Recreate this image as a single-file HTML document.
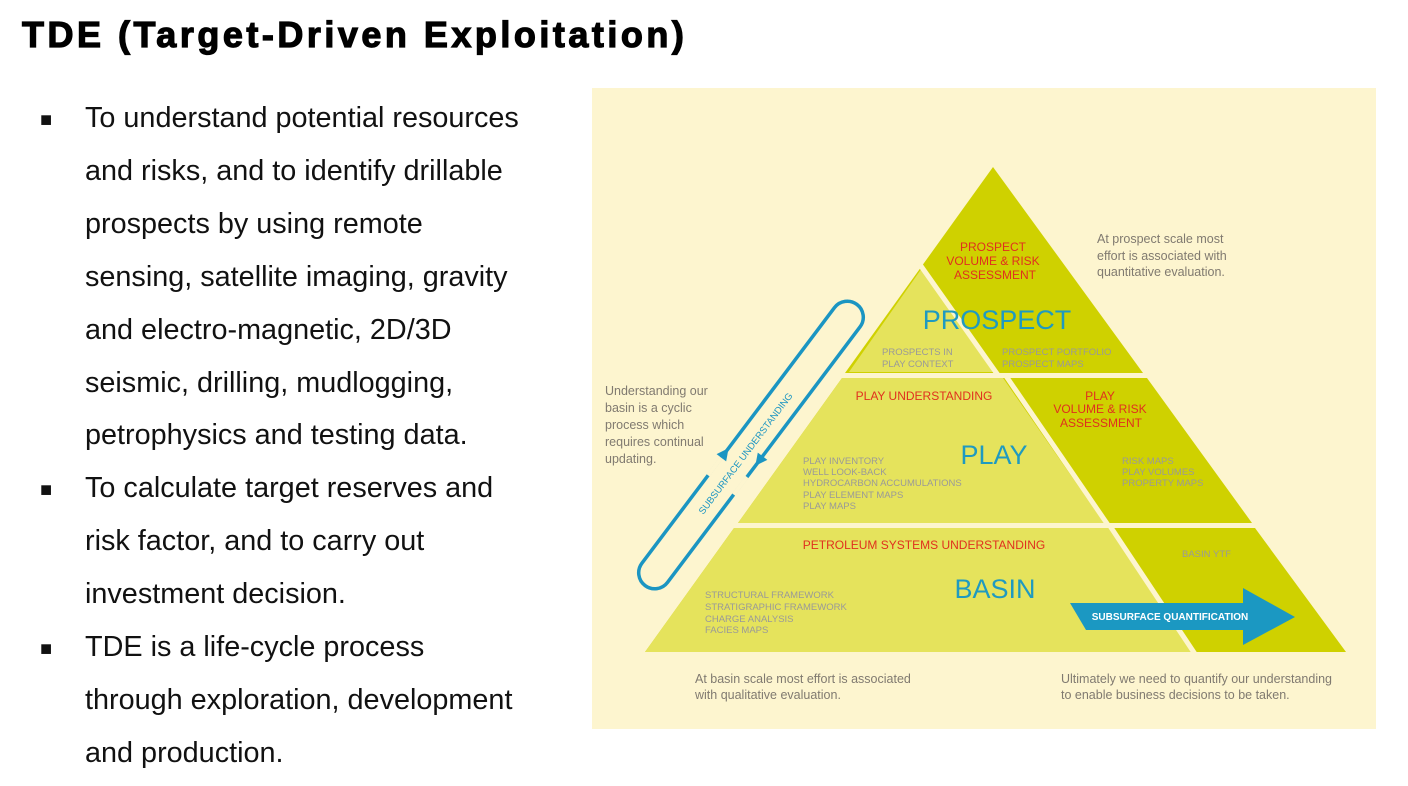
<!DOCTYPE html>
<html><head><meta charset="utf-8"><style>
body{margin:0;width:1408px;height:786px;background:#fff;position:relative;overflow:hidden;font-family:"Liberation Sans",Arial,sans-serif}
h1{position:absolute;left:22px;top:14px;margin:0;font-size:36px;font-weight:bold;color:#000;letter-spacing:3.5px;-webkit-text-stroke:1.2px #000}
.b{position:absolute;left:40px;top:92px;font-size:28.8px;line-height:52.9px;color:#111}
.b div{position:relative;padding-left:45px}
.b div span{position:absolute;left:0;top:2px;font-size:20px}
svg{position:absolute;left:0;top:0}
</style></head><body>
<h1>TDE (Target-Driven Exploitation)</h1>
<div class="b">
<div><span>■</span>To understand potential resources<br>and risks, and to identify drillable<br>prospects by using remote<br>sensing, satellite imaging, gravity<br>and electro-magnetic, 2D/3D<br>seismic, drilling, mudlogging,<br>petrophysics and testing data.</div>
<div><span>■</span>To calculate target reserves and<br>risk factor, and to carry out<br>investment decision.</div>
<div><span>■</span>TDE is a life-cycle process<br>through exploration, development<br>and production.</div>
</div>
<svg width="1408" height="786" font-family="Liberation Sans, sans-serif">
<rect x="592" y="88" width="784" height="641" fill="#fdf5cf"/>
<polygon points="993,167 845,373 1143,373" fill="#cfd100"/>
<polygon points="842,378 1147,378 1252,523 738,523" fill="#cfd100"/>
<polygon points="734,528 1255,528 1346,652 645,652" fill="#cfd100"/>
<polygon points="922,268 849,372 995,372" fill="#e5e35c"/>
<line x1="916" y1="259" x2="1000" y2="378" stroke="#fdf5cf" stroke-width="5"/>
<polygon points="842,378 1003,378 1104,523 738,523" fill="#e5e35c"/>
<polygon points="734,528 1109,528 1192,652 645,652" fill="#e5e35c"/>
<line x1="1006" y1="376" x2="1108" y2="525" stroke="#fdf5cf" stroke-width="5"/>
<line x1="1110" y1="526" x2="1195" y2="654" stroke="#fdf5cf" stroke-width="5"/>
<g fill="#e0301e" font-size="12" text-anchor="middle">
<text x="993" y="251">PROSPECT</text><text x="993" y="265">VOLUME &amp; RISK</text><text x="995" y="279">ASSESSMENT</text>
<text x="924" y="400">PLAY UNDERSTANDING</text>
<text x="1100" y="400">PLAY</text><text x="1100" y="413">VOLUME &amp; RISK</text><text x="1101" y="427">ASSESSMENT</text>
<text x="924" y="549">PETROLEUM SYSTEMS UNDERSTANDING</text>
</g>
<g fill="#1f9ac0" font-size="27" text-anchor="middle">
<text x="997" y="329">PROSPECT</text><text x="994" y="464">PLAY</text><text x="995" y="598">BASIN</text>
</g>
<g fill="#999" font-size="9.5">
<text x="882" y="355">PROSPECTS IN</text><text x="882" y="367">PLAY CONTEXT</text>
<text x="1002" y="355">PROSPECT PORTFOLIO</text><text x="1002" y="367">PROSPECT MAPS</text>
<text x="803" y="464">PLAY INVENTORY</text><text x="803" y="475">WELL LOOK-BACK</text><text x="803" y="486">HYDROCARBON ACCUMULATIONS</text><text x="803" y="498">PLAY ELEMENT MAPS</text><text x="803" y="509">PLAY MAPS</text>
<text x="1122" y="464">RISK MAPS</text><text x="1122" y="475">PLAY VOLUMES</text><text x="1122" y="486">PROPERTY MAPS</text>
<text x="1182" y="557">BASIN YTF</text>
<text x="705" y="598">STRUCTURAL FRAMEWORK</text><text x="705" y="610">STRATIGRAPHIC FRAMEWORK</text><text x="705" y="622">CHARGE ANALYSIS</text><text x="705" y="633">FACIES MAPS</text>
</g>
<g fill="#807a70" font-size="12.5">
<text x="1097" y="243">At prospect scale most</text><text x="1097" y="260">effort is associated with</text><text x="1097" y="276">quantitative evaluation.</text>
<text x="605" y="395">Understanding our</text><text x="605" y="412">basin is a cyclic</text><text x="605" y="429">process which</text><text x="605" y="446">requires continual</text><text x="605" y="463">updating.</text>
<text x="695" y="683">At basin scale most effort is associated</text><text x="695" y="699">with qualitative evaluation.</text>
<text x="1061" y="683">Ultimately we need to quantify our understanding</text><text x="1061" y="699">to enable business decisions to be taken.</text>
</g>
<polygon points="1070,603 1243,603 1243,588 1295,617 1243,645 1243,630 1086,630" fill="#1b98c2"/>
<text x="1170" y="620" fill="#fff" font-size="10" font-weight="bold" text-anchor="middle">SUBSURFACE QUANTIFICATION</text>
<g transform="translate(751,445) rotate(-53)">
<rect x="-176" y="-16" width="352" height="32" rx="16" fill="none" stroke="#1b95c2" stroke-width="3.5"/>
<rect x="-50" y="-18" width="22" height="4" fill="#fdf5cf"/>
<rect x="-50" y="14" width="22" height="4" fill="#fdf5cf"/>
<polygon points="-28,-22 -16,-16 -28,-10" fill="#1b95c2"/>
<polygon points="-2,10 -14,16 -2,22" fill="#1b95c2"/>
<text x="-10" y="4" fill="#1b95c2" font-size="9.5" text-anchor="middle">SUBSURFACE UNDERSTANDING</text>
</g>
</svg>
</body></html>
